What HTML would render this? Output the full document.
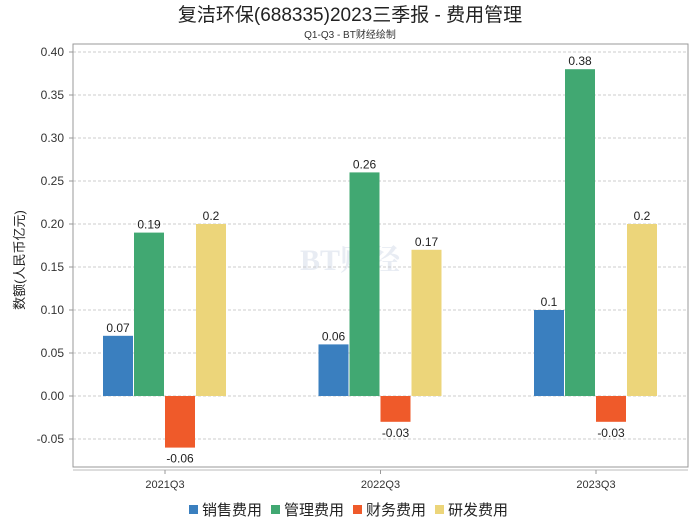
<!DOCTYPE html>
<html><head><meta charset="utf-8"><style>
body{margin:0;background:#fff;width:700px;height:524px;overflow:hidden;font-family:"Liberation Sans","Noto Sans CJK SC",sans-serif}
</style></head><body>
<svg width="700" height="524" font-family="Liberation Sans, Noto Sans CJK SC, sans-serif">
<text x="350" y="21" text-anchor="middle" font-size="19" fill="#222">复洁环保(688335)2023三季报 - 费用管理</text>
<text x="350" y="38" text-anchor="middle" font-size="10" fill="#333">Q1-Q3 - BT财经绘制</text>
<text x="350" y="270" text-anchor="middle" font-size="30" font-weight="bold" fill="#e8ecf3" font-family="Liberation Serif, Noto Serif CJK SC, serif">BT财经</text>
<g id="grid"></g>
<rect x="73" y="44" width="615" height="423" fill="none" stroke="#999"/>
<line x1="73" y1="470" x2="688" y2="470" stroke="#bbb"/>
<text transform="translate(24,260) rotate(-90)" text-anchor="middle" font-size="13" fill="#222">数额(人民币亿元)</text>
<g id="bars"></g>
<g id="legend"></g>
</svg>
<script>
const categories=["2021Q3","2022Q3","2023Q3"];
const seriesNames=["销售费用","管理费用","财务费用","研发费用"];
const sales=[0.07,0.06,0.1];
const admin=[0.19,0.26,0.38];
const finance=[-0.06,-0.03,-0.03];
const rnd=[0.2,0.17,0.2];
const yTicks=["-0.05","0.00","0.05","0.10","0.15","0.20","0.25","0.30","0.35","0.40"];
const colors=["#3a7fbf","#41a872","#ef5a2a","#ecd57a"];
const NS="http://www.w3.org/2000/svg";
const y=v=>396-v*860;
const cx=i=>165+i*215.5;
function mk(tag,attrs,parent){const e=document.createElementNS(NS,tag);for(const k in attrs)e.setAttribute(k,attrs[k]);parent.appendChild(e);return e;}
const grid=document.getElementById('grid');
yTicks.forEach(t=>{const v=parseFloat(t);
const l=mk('line',{x1:73,x2:688,y1:y(v),y2:y(v),stroke:'#ccc','stroke-dasharray':'3,2'},grid);


const tx=mk('text',{x:64,y:y(v)+4,'text-anchor':'end','font-size':12,fill:'#333'},grid);tx.textContent=t;


mk('line',{x1:69,x2:73,y1:y(v),y2:y(v),stroke:'#999'},grid);});
const bars=document.getElementById('bars');
const series=[sales,admin,finance,rnd];
categories.forEach((c,i)=>{
series.forEach((s,j)=>{const v=s[i];const x=cx(i)-62+j*31;const top=Math.min(y(v),y(0));const h=Math.abs(y(v)-y(0));
const r=mk('rect',{x:x,y:top,width:30,height:h,fill:colors[j]},bars);


const t=mk('text',{x:x+15,y:v>=0?y(v)-4:y(v)+15,'text-anchor':'middle','font-size':12,fill:'#222'},bars);t.textContent=String(v);

});
mk('line',{x1:cx(i),x2:cx(i),y1:470,y2:474,stroke:'#999'},bars);
const xl=mk('text',{x:cx(i),y:488,'text-anchor':'middle','font-size':11,fill:'#333'},bars);xl.textContent=c;

});
const lg=document.getElementById('legend');
seriesNames.forEach((n,j)=>{const x=189+j*82;
const g=mk('g',{},lg);


mk('rect',{x:x,y:505,width:9,height:9,fill:colors[j]},g);
const t=mk('text',{x:x+13,y:515,'font-size':15,fill:'#222'},g);t.textContent=n;});
</script>
</body></html>
